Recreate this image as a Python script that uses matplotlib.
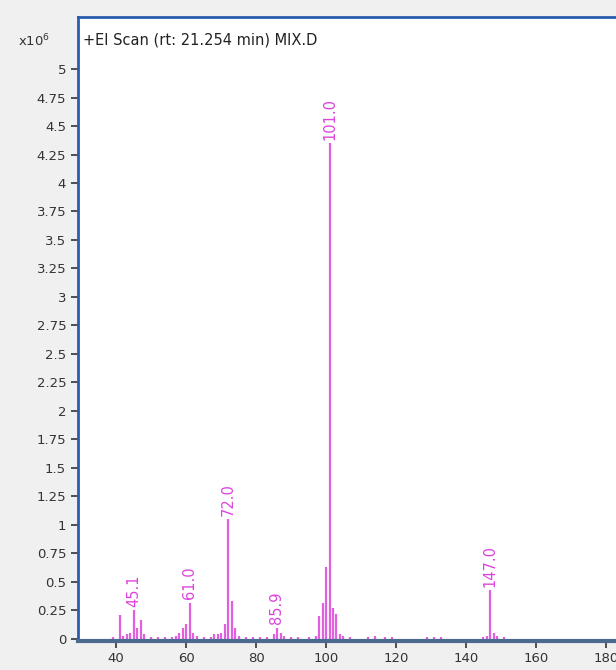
import matplotlib.pyplot as plt
import numpy as np

# m/z values and abundances (x10^6)
mz = [39, 41, 42, 43, 44, 45, 46, 47, 48, 50, 52, 54, 56, 57, 58, 59, 60, 61, 62, 63,
      65, 67, 68, 69, 70, 71, 72, 73, 74, 75, 77, 79, 81, 83, 85, 86, 87, 88, 90, 92,
      95, 97, 98, 99, 100, 101, 102, 103, 104, 105, 107, 112, 114, 117, 119, 129, 131,
      133, 145, 146, 147, 148, 149, 151]
abund = [0.02, 0.21, 0.03, 0.04, 0.05, 0.25, 0.10, 0.17, 0.04, 0.02, 0.02, 0.02, 0.02, 0.03,
         0.05, 0.10, 0.13, 0.32, 0.05, 0.03, 0.02, 0.02, 0.04, 0.04, 0.05, 0.13, 1.05, 0.33,
         0.10, 0.03, 0.02, 0.02, 0.02, 0.02, 0.04, 0.10, 0.05, 0.03, 0.02, 0.02, 0.02, 0.03,
         0.20, 0.32, 0.63, 4.35, 0.27, 0.22, 0.04, 0.03, 0.02, 0.02, 0.03, 0.02, 0.02, 0.02,
         0.02, 0.02, 0.02, 0.03, 0.43, 0.05, 0.03, 0.02]

label_mz = [45.1, 61.0, 72.0, 85.9, 101.0, 147.0]
label_y = [0.25, 0.32, 1.05, 0.10, 4.35, 0.43]

yticks = np.arange(0, 5.01, 0.25)
ytick_labels = ['0', '0.25', '0.5', '0.75', '1', '1.25', '1.5', '1.75', '2', '2.25', '2.5',
                '2.75', '3', '3.25', '3.5', '3.75', '4', '4.25', '4.5', '4.75', '5']
xticks = [40, 60, 80, 100, 120, 140, 160, 180]

fig = plt.figure(figsize=(6.16, 6.70), dpi=100)
fig.patch.set_facecolor('#f0f0f0')
ax = fig.add_axes([0.1266, 0.0433, 0.8734, 0.9313])
ax.set_facecolor('white')

ax.vlines(mz, 0, abund, colors='#e060e0', linewidth=1.6)

for m, h in zip(label_mz, label_y):
    ax.text(m, h + 0.03, f'{m:.1f}', rotation=90, ha='center', va='bottom',
            color='#dd44dd', fontsize=10.5)

ax.set_xlim(29.1, 182.9)
ax.set_ylim(-0.0175, 5.456)
ax.set_yticks(yticks)
ax.set_yticklabels(ytick_labels)
ax.set_xticks(xticks)
ax.tick_params(axis='both', colors='#333333', labelsize=9.5, length=5, width=1.2,
               direction='out')
ax.tick_params(axis='x', pad=3)

for s in ['left', 'top']:
    ax.spines[s].set_color('#2a5db0')
    ax.spines[s].set_linewidth(2)
ax.spines['bottom'].set_color('#4a6a90')
ax.spines['bottom'].set_linewidth(3)
ax.spines['right'].set_visible(False)

ax.text(0.01, 0.963, '+EI Scan (rt: 21.254 min) MIX.D', transform=ax.transAxes,
        ha='left', va='center', fontsize=10.5, color='#222222')
fig.text(0.03, 0.939, 'x10$^{6}$', fontsize=9.5, color='#333333', va='center')

fig.savefig('out.png', dpi=100, facecolor=fig.get_facecolor())
